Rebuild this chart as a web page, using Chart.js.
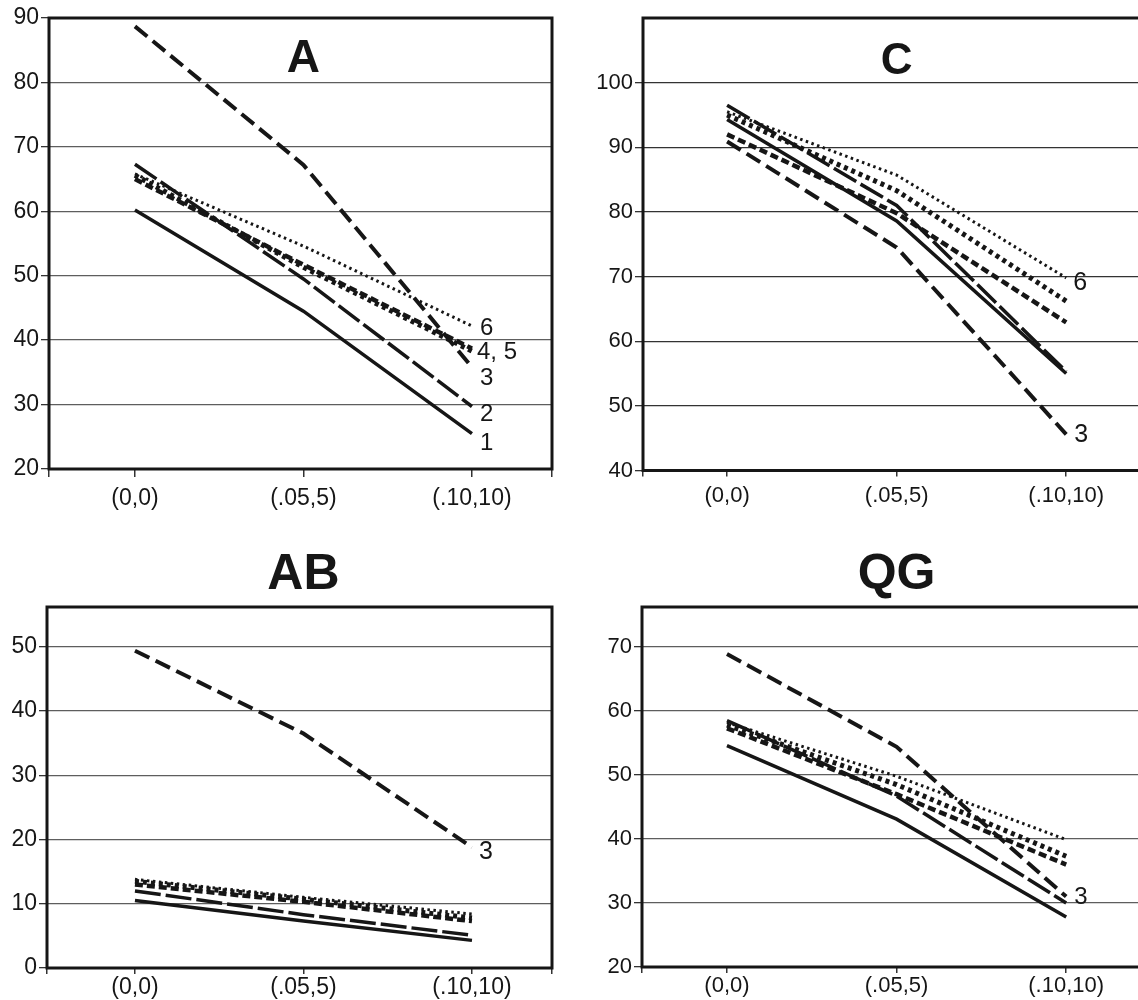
<!DOCTYPE html>
<html>
<head>
<meta charset="utf-8">
<title>Panels A, C, AB, QG</title>
<script src="https://cdn.jsdelivr.net/npm/chart.js@4.4.1/dist/chart.umd.min.js"></script>
<style>
  html, body { margin: 0; padding: 0; background: #fff; overflow: hidden; }
  .panel { position: absolute; }
</style>
</head>
<body>
<div class="panel" style="left:0;top:0;width:570px;height:520px"><canvas id="chartA"></canvas></div>
<div class="panel" style="left:570px;top:0;width:600px;height:520px"><canvas id="chartC"></canvas></div>
<div class="panel" style="left:0;top:520px;width:570px;height:480px"><canvas id="chartAB"></canvas></div>
<div class="panel" style="left:570px;top:520px;width:600px;height:480px"><canvas id="chartQG"></canvas></div>
<script>
const categories = ['(0,0)', '(.05,5)', '(.10,10)'];

// A
const a1 = [60.2, 44.5, 25.5];
const a2 = [67.3, 49.5, 29.7];
const a3 = [88.7, 67.2, 35.8];
const a4 = [65.0, 51.7, 38.7];
const a5 = [65.6, 51.3, 38.3];
const a6 = [65.8, 54.6, 42.2];
const ticksA = [20, 30, 40, 50, 60, 70, 80, 90];

// C
const c1 = [94.3, 78.6, 55.0];
const c2 = [96.5, 81.0, 55.3];
const c3 = [90.9, 74.5, 45.6];
const c4 = [92.0, 79.8, 62.9];
const c5 = [95.0, 83.3, 66.2];
const c6 = [95.5, 85.7, 69.8];
const ticksC = [40, 50, 60, 70, 80, 90, 100];

// AB
const ab1 = [10.5, 7.3, 4.3];
const ab2 = [12.0, 8.3, 5.1];
const ab3 = [49.4, 36.5, 18.8];
const ab4 = [13.0, 10.3, 7.3];
const ab5 = [13.5, 10.7, 7.8];
const ab6 = [13.8, 11.0, 8.4];
const ticksAB = [0, 10, 20, 30, 40, 50];

// QG
const qg1 = [54.6, 43.1, 27.8];
const qg2 = [58.5, 46.7, 30.0];
const qg3 = [68.9, 54.4, 31.0];
const qg4 = [57.3, 47.0, 36.0];
const qg5 = [57.8, 48.5, 37.3];
const qg6 = [58.2, 49.8, 39.9];
const ticksQG = [20, 30, 40, 50, 60, 70];

// line styles for series 1..6
const seriesStyles = [
  { borderWidth: 3.5, borderDash: [] },
  { borderWidth: 3.5, borderDash: [26, 5] },
  { borderWidth: 4,   borderDash: [16, 7] },
  { borderWidth: 4.5, borderDash: [8, 4] },
  { borderWidth: 5,   borderDash: [4, 4] },
  { borderWidth: 3,   borderDash: [2.5, 3.5] }
];

const FONT = '"Liberation Sans", Arial, sans-serif';
const INK = '#161616';

// box, title and line-end labels
const panelDecor = {
  id: 'panelDecor',
  afterDatasetsDraw(chart, args, opts) {
    const { ctx, chartArea: a, scales } = chart;
    ctx.save();
    ctx.fillStyle = INK;
    ctx.textBaseline = 'middle';
    ctx.textAlign = 'left';
    ctx.font = opts.labelSize + 'px ' + FONT;
    opts.endLabels.forEach(l => {
      const pts = chart.getDatasetMeta(l.ds).data;
      const p = pts[pts.length - 1];
      ctx.fillText(l.text, p.x + l.dx, p.y + l.dy);
    });
    ctx.lineWidth = 3;
    ctx.strokeStyle = INK;
    ctx.strokeRect(a.left, a.top, a.right - a.left, a.bottom - a.top);
    ctx.font = 'bold ' + opts.titleSize + 'px ' + FONT;
    ctx.textAlign = 'center';
    ctx.fillText(opts.title, scales.x.getPixelForValue(1), a.top + opts.titleDy);
    ctx.restore();
  }
};

function makePanel(p) {
  const datasets = p.series.map((vals, i) => ({
    data: vals.map((v, k) => ({ x: k, y: v })),
    borderColor: INK,
    borderWidth: seriesStyles[i].borderWidth,
    borderDash: seriesStyles[i].borderDash,
    borderCapStyle: 'butt',
    pointRadius: 0,
    tension: 0,
    fill: false
  }));

  new Chart(document.getElementById(p.id), {
    type: 'line',
    data: { datasets },
    options: {
      responsive: true,
      maintainAspectRatio: false,
      animation: false,
      events: [],
      layout: { padding: { top: p.padTop, right: p.padRight, left: 0, bottom: 0 } },
      plugins: {
        legend: { display: false },
        tooltip: { enabled: false },
        panelDecor: {
          title: p.title, titleDy: p.titleDy, titleSize: p.titleSize,
          labelSize: p.labelSize, endLabels: p.endLabels
        }
      },
      scales: {
        x: {
          type: 'linear',
          min: p.xMin,
          max: p.xMax,
          afterBuildTicks: s => {
            s.ticks = [p.xMin, ...categories.map((c, i) => i), p.xMax].map(v => ({ value: v }));
          },
          afterFit: s => { s.height = p.xHeight; },
          border: { display: false },
          grid: { drawOnChartArea: false, drawTicks: true, tickLength: p.xTick, tickColor: '#333', lineWidth: 1.5 },
          ticks: {
            autoSkip: false, maxRotation: 0, padding: p.xPad,
            color: INK, font: { family: FONT, size: p.fontSize },
            callback: v => categories[v] !== undefined && Number.isInteger(v) ? categories[v] : ''
          }
        },
        y: {
          min: p.yTicks[0],
          max: p.yMax,
          afterBuildTicks: s => { s.ticks = p.yTicks.map(v => ({ value: v })); },
          afterFit: s => { s.width = p.yWidth; },
          border: { display: false },
          grid: { color: p.gridColor, lineWidth: 1.3, tickColor: '#333', tickLength: 8 },
          ticks: { padding: 2, color: INK, font: { family: FONT, size: p.fontSize } }
        }
      }
    },
    plugins: [panelDecor]
  });
}

const lbl = (text, ds, dx, dy) => ({ text, ds, dx, dy });

makePanel({
  id: 'chartA', title: 'A', titleDy: 41, titleSize: 46, fontSize: 23, labelSize: 24,
  series: [a1, a2, a3, a4, a5, a6], yTicks: ticksA, yMax: 90,
  xMin: -0.51, xMax: 2.475, yWidth: 49, xHeight: 51, padTop: 18, padRight: 18,
  xTick: 8, xPad: 8, gridColor: '#5e5e5e',
  endLabels: [lbl('6', 5, 8, 2), lbl('4, 5', 3, 5, 4), lbl('3', 2, 8, 11), lbl('2', 1, 8, 8), lbl('1', 0, 8, 10)]
});

makePanel({
  id: 'chartC', title: 'C', titleDy: 44, titleSize: 44, fontSize: 22, labelSize: 25,
  series: [c1, c2, c3, c4, c5, c6], yTicks: ticksC, yMax: 110,
  xMin: -0.496, xMax: 2.5, yWidth: 73, xHeight: 49.5, padTop: 18, padRight: 19,
  xTick: 6, xPad: 6, gridColor: '#333333',
  endLabels: [lbl('6', 5, 7, 5), lbl('3', 2, 8, 1)]
});

makePanel({
  id: 'chartAB', title: 'AB', titleDy: -32, titleSize: 50, fontSize: 23, labelSize: 25,
  series: [ab1, ab2, ab3, ab4, ab5, ab6], yTicks: ticksAB, yMax: 56.2,
  xMin: -0.522, xMax: 2.475, yWidth: 47, xHeight: 32, padTop: 87, padRight: 18,
  xTick: 6, xPad: 0, gridColor: '#5e5e5e',
  endLabels: [lbl('3', 2, 7, 5)]
});

makePanel({
  id: 'chartQG', title: 'QG', titleDy: -32, titleSize: 50, fontSize: 22, labelSize: 24,
  series: [qg1, qg2, qg3, qg4, qg5, qg6], yTicks: ticksQG, yMax: 76.25,
  xMin: -0.501, xMax: 2.5, yWidth: 72, xHeight: 33, padTop: 87, padRight: 19,
  xTick: 6, xPad: 0, gridColor: '#5e5e5e',
  endLabels: [lbl('3', 2, 8, 1)]
});
</script>
</body>
</html>
